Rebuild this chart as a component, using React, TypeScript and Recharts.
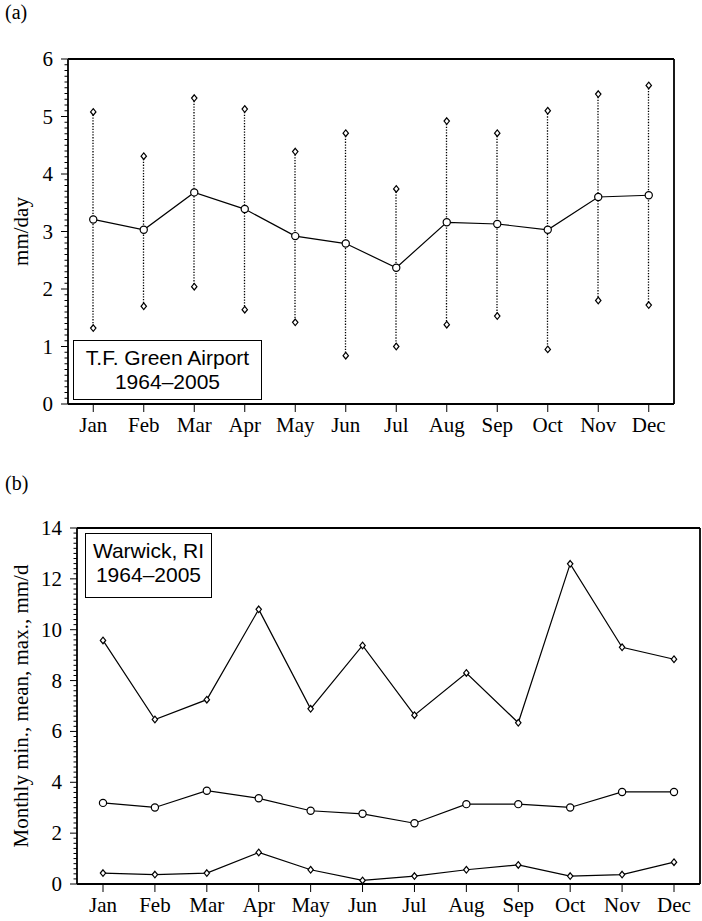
import React from 'react';
import { ComposedChart, Line, Bar, XAxis, YAxis } from 'recharts';

const MONTHS = ['Jan', 'Feb', 'Mar', 'Apr', 'May', 'Jun', 'Jul', 'Aug', 'Sep', 'Oct', 'Nov', 'Dec'];

// T.F. Green Airport, mm/day
const AIRPORT_MEAN = [3.21, 3.03, 3.68, 3.39, 2.92, 2.79, 2.37, 3.16, 3.13, 3.03, 3.6, 3.63];
const AIRPORT_HIGH = [5.08, 4.31, 5.32, 5.13, 4.39, 4.71, 3.74, 4.92, 4.71, 5.1, 5.39, 5.54];
const AIRPORT_LOW = [1.32, 1.7, 2.04, 1.64, 1.42, 0.84, 1.0, 1.38, 1.53, 0.95, 1.8, 1.72];
const AIRPORT_TICKS = [0, 1, 2, 3, 4, 5, 6];

// Warwick, RI monthly min / mean / max, mm/d
const WARWICK_MAX = [9.58, 6.47, 7.25, 10.8, 6.89, 9.38, 6.64, 8.3, 6.34, 12.59, 9.31, 8.84];
const WARWICK_MEAN = [3.19, 3.01, 3.67, 3.37, 2.88, 2.76, 2.39, 3.14, 3.14, 3.01, 3.62, 3.62];
const WARWICK_MIN = [0.43, 0.37, 0.43, 1.24, 0.56, 0.14, 0.31, 0.56, 0.75, 0.31, 0.37, 0.86];
const WARWICK_TICKS = [0, 2, 4, 6, 8, 10, 12, 14];

const airportRows = MONTHS.map((m, i) => ({
  month: m,
  mean: AIRPORT_MEAN[i],
  high: AIRPORT_HIGH[i],
  low: AIRPORT_LOW[i],
  range: [AIRPORT_LOW[i], AIRPORT_HIGH[i]],
}));

const warwickRows = MONTHS.map((m, i) => ({
  month: m,
  max: WARWICK_MAX[i],
  mean: WARWICK_MEAN[i],
  min: WARWICK_MIN[i],
}));

// major ticks plus the small subdivisions between them
const withMinor = (majors: number[], parts: number) => {
  const out: number[] = [];
  for (let i = 0; i < majors.length - 1; i++) {
    const a = majors[i];
    const step = (majors[i + 1] - a) / parts;
    for (let k = 0; k < parts; k++) out.push(Math.round((a + k * step) * 1000) / 1000);
  }
  out.push(majors[majors.length - 1]);
  return out;
};

const SERIF = '"Liberation Serif", "Times New Roman", serif';
const SANS = '"Liberation Sans", Arial, sans-serif';
const AXIS_W = 1.8;

const Diamond = (p: any) => {
  const { cx, cy, index } = p;
  if (cx == null || cy == null) return <g key={`d-${index}`} />;
  return (
    <path
      key={`d-${index}`}
      d={`M${cx},${cy - 3.3} L${cx + 2.7},${cy} L${cx},${cy + 3.3} L${cx - 2.7},${cy} Z`}
      fill="#fff"
      stroke="#000"
      strokeWidth={1.2}
    />
  );
};

const Ring = (p: any) => {
  const { cx, cy, index } = p;
  if (cx == null || cy == null) return <g key={`c-${index}`} />;
  return <circle key={`c-${index}`} cx={cx} cy={cy} r={3.6} fill="#fff" stroke="#000" strokeWidth={1.2} />;
};

// dotted whisker from low to high
const Whisker = (p: any) => {
  const { x, y, width, height } = p;
  const cx = x + width / 2;
  const top = Math.min(y, y + height);
  const bot = Math.max(y, y + height);
  return <line x1={cx} x2={cx} y1={top} y2={bot} stroke="#000" strokeWidth={1.3} strokeDasharray="1.3 1.5" />;
};

// tick marks drawn by hand so majors and minors can share one axis
const yTick = (majors: number[], side: 'left' | 'right') => (p: any) => {
  const { x, y, payload } = p;
  const v = payload.value;
  const major = majors.includes(v);
  const dir = side === 'left' ? -1 : 1;
  const len = major ? 7 : 3.5;
  return (
    <g>
      <line x1={x} x2={x + dir * len} y1={y} y2={y} stroke="#000" strokeWidth={1} />
      {side === 'left' && major && (
        <text x={x - 15} y={y} textAnchor="end" dominantBaseline="central" fontFamily={SERIF} fontSize={21} fill="#000">
          {v}
        </text>
      )}
    </g>
  );
};

const yTitle = (text: string) => (props: any) => {
  const vb = props.viewBox || {};
  const cy = vb.y + vb.height / 2;
  return (
    <text
      x={21}
      y={cy}
      transform={`rotate(-90, 21, ${cy})`}
      textAnchor="middle"
      dominantBaseline="central"
      fontFamily={SERIF}
      fontSize={21}
      fill="#000"
    >
      {text}
    </text>
  );
};

const tickStyle = { fontFamily: SERIF, fontSize: 21, fill: '#000' };
const axisLine = { stroke: '#000', strokeWidth: AXIS_W };

const boxStyle: React.CSSProperties = {
  position: 'absolute',
  border: '1.5px solid #000',
  background: '#fff',
  fontFamily: SANS,
  fontSize: 21,
  lineHeight: '24px',
  textAlign: 'center',
  color: '#000',
  boxSizing: 'border-box',
  paddingTop: 5,
};

const panelLabel: React.CSSProperties = {
  position: 'absolute',
  left: 5,
  fontFamily: SERIF,
  fontSize: 20,
  color: '#000',
};

export default function App() {
  const aTicks = withMinor(AIRPORT_TICKS, 10);
  const bTicks = withMinor(WARWICK_TICKS, 10);
  const bPad = { left: 26, right: 26 };
  return (
    <div style={{ position: 'absolute', left: 0, top: 0, width: 702, height: 921, background: '#fff' }}>
      <div style={{ ...panelLabel, top: 1 }}>(a)</div>
      <div style={{ position: 'absolute', left: 0, top: 0 }}>
        <ComposedChart width={702} height={460} data={airportRows} margin={{ top: 58, right: 27, bottom: 55, left: 67 }}>
          <XAxis xAxisId="bottom" dataKey="month" height={1} interval={0} tickSize={8} tickMargin={5}
            tick={tickStyle} axisLine={axisLine} tickLine={{ stroke: '#000' }} />
          <XAxis xAxisId="top" dataKey="month" orientation="top" height={1} interval={0} tickSize={7}
            tick={false} axisLine={axisLine} tickLine={{ stroke: '#000' }} />
          <YAxis yAxisId="main" type="number" domain={[0, 6]} ticks={aTicks} interval={0} width={1}
            tickSize={0} tickMargin={0} tickLine={false} tick={yTick(AIRPORT_TICKS, 'left')} axisLine={axisLine}
            label={{ content: yTitle('mm/day') }} />
          <YAxis yAxisId="right" orientation="right" type="number" domain={[0, 6]} ticks={aTicks} interval={0} width={1}
            tickSize={0} tickMargin={0} tickLine={false} tick={yTick(AIRPORT_TICKS, 'right')} axisLine={axisLine} />
          <Bar xAxisId="top" yAxisId="main" dataKey="range" barSize={2} shape={Whisker} isAnimationActive={false} />
          <Line xAxisId="bottom" yAxisId="main" dataKey="high" stroke="none" dot={Diamond} activeDot={false} isAnimationActive={false} />
          <Line xAxisId="bottom" yAxisId="main" dataKey="low" stroke="none" dot={Diamond} activeDot={false} isAnimationActive={false} />
          <Line xAxisId="bottom" yAxisId="main" dataKey="mean" stroke="#000" strokeWidth={1.2} dot={Ring} activeDot={false} isAnimationActive={false} />
        </ComposedChart>
      </div>
      <div style={{ ...boxStyle, left: 73, top: 340, width: 189, height: 60 }}>
        T.F. Green Airport
        <br />
        1964–2005
      </div>

      <div style={{ ...panelLabel, top: 472 }}>(b)</div>
      <div style={{ position: 'absolute', left: 0, top: 460 }}>
        <ComposedChart width={702} height={461} data={warwickRows} margin={{ top: 67, right: 1, bottom: 36, left: 76 }}>
          <XAxis xAxisId="bottom" dataKey="month" height={1} interval={0} tickSize={8} tickMargin={5} padding={bPad}
            tick={tickStyle} axisLine={axisLine} tickLine={{ stroke: '#000' }} />
          <XAxis xAxisId="top" dataKey="month" orientation="top" height={1} interval={0} tickSize={7} padding={bPad}
            tick={false} axisLine={axisLine} tickLine={{ stroke: '#000' }} />
          <YAxis yAxisId="main" type="number" domain={[0, 14]} ticks={bTicks} interval={0} width={1}
            tickSize={0} tickMargin={0} tickLine={false} tick={yTick(WARWICK_TICKS, 'left')} axisLine={axisLine}
            label={{ content: yTitle('Monthly min., mean, max., mm/d') }} />
          <YAxis yAxisId="right" orientation="right" type="number" domain={[0, 14]} ticks={bTicks} interval={0} width={1}
            tickSize={0} tickMargin={0} tickLine={false} tick={yTick(WARWICK_TICKS, 'right')} axisLine={axisLine} />
          <Line xAxisId="top" yAxisId="main" dataKey="max" stroke="#000" strokeWidth={1.2} dot={Diamond} activeDot={false} isAnimationActive={false} />
          <Line xAxisId="bottom" yAxisId="main" dataKey="mean" stroke="#000" strokeWidth={1.2} dot={Ring} activeDot={false} isAnimationActive={false} />
          <Line xAxisId="bottom" yAxisId="main" dataKey="min" stroke="#000" strokeWidth={1.2} dot={Diamond} activeDot={false} isAnimationActive={false} />
        </ComposedChart>
      </div>
      <div style={{ ...boxStyle, left: 85, top: 533, width: 127, height: 65 }}>
        Warwick, RI
        <br />
        1964–2005
      </div>
    </div>
  );
}
